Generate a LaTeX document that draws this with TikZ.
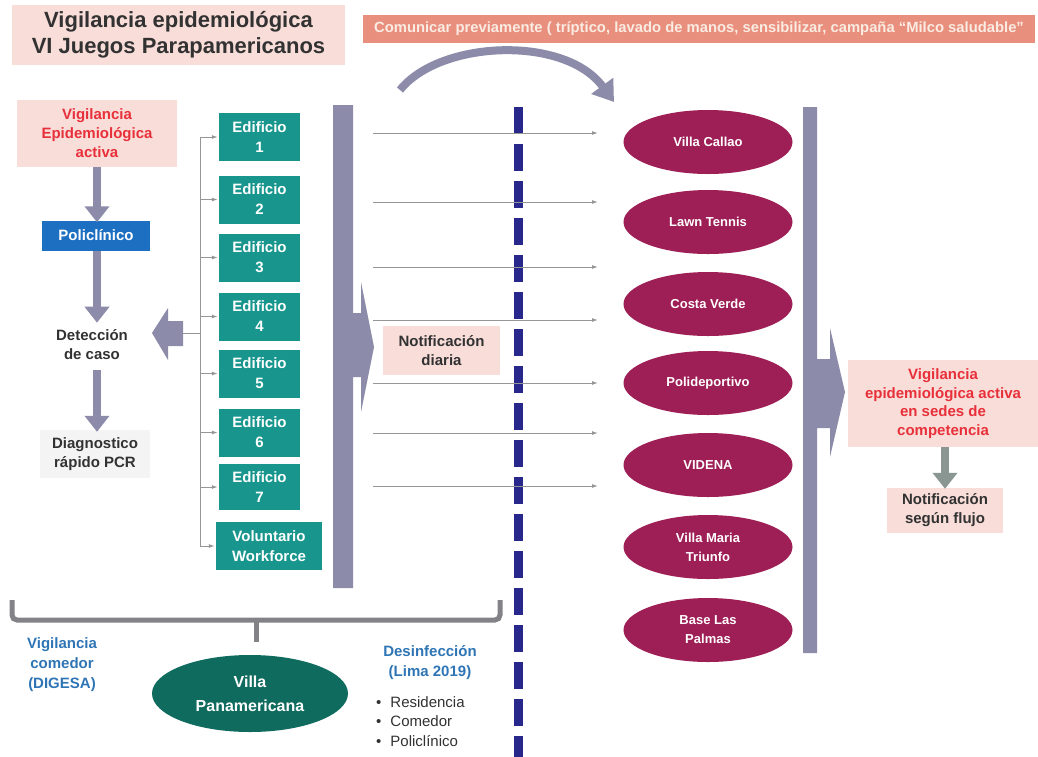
\documentclass[tikz,border=0pt]{standalone}
\usepackage{fontspec}
\setmainfont{Liberation Sans}
\usetikzlibrary{arrows.meta,shapes.geometric}
\definecolor{pinkfill}{RGB}{248,221,217}
\definecolor{bannercol}{RGB}{233,143,126}
\definecolor{bannertxt}{RGB}{250,236,226}
\definecolor{redtxt}{RGB}{232,48,58}
\definecolor{poliblue}{RGB}{28,111,193}
\definecolor{tealA}{RGB}{24,150,142}
\definecolor{tealB}{RGB}{16,107,95}
\definecolor{magentaA}{RGB}{158,30,86}
\definecolor{barcol}{RGB}{140,140,170}
\definecolor{navycol}{RGB}{40,40,140}
\definecolor{bracecol}{RGB}{130,130,135}
\definecolor{bluetxt}{RGB}{47,117,181}
\definecolor{greenarrow}{RGB}{138,150,146}
\definecolor{thincol}{RGB}{150,150,150}
\definecolor{darktxt}{RGB}{50,50,50}
\definecolor{diagfill}{RGB}{244,244,244}
\begin{document}
\begin{tikzpicture}[x=1pt,y=-1pt,
 base/.style={font=\fontsize{15}{19}\selectfont\bfseries, align=center, inner sep=0pt, text=darktxt},
 pinkbox/.style={base, fill=pinkfill},
 tealbox/.style={base, fill=tealA, text=white, minimum width=81pt, minimum height=48pt, font=\fontsize{15}{20}\selectfont\bfseries},
 site/.style={ellipse, fill=magentaA, text=white, minimum width=169pt, minimum height=64pt, inner sep=0pt, align=center, font=\fontsize{13}{19}\selectfont\bfseries},
 bigdown/.style={line width=8pt, draw=barcol, -{Triangle[width=24pt,length=16pt]}},
 thinarrow/.style={draw=thincol, line width=1pt, -{Latex[length=6pt,width=4pt]}},
 bluelabel/.style={base, text=bluetxt, font=\fontsize{15}{20}\selectfont\bfseries},
]
\useasboundingbox (0,0) rectangle (1038,756);

% title and banner
\node[pinkbox, minimum width=333pt, minimum height=60pt, font=\fontsize{22}{26}\selectfont\bfseries] (title) at (178.5,35) {Vigilancia epidemiológica\\VI Juegos Parapamericanos};
\node[base, fill=bannercol, text=bannertxt, minimum width=672pt, minimum height=28pt, font=\fontsize{14.8}{16}\selectfont\bfseries] (banner) at (699,29) {Comunicar previamente ( tríptico, lavado de manos, sensibilizar, campaña “Milco saludable”};

% curved arrow
\coordinate (cs) at (400,90);
\coordinate (ce) at (614,102);
\draw[line width=8pt, draw=barcol, -{Triangle[width=26pt,length=20pt]}] (cs) .. controls (440,40) and (565,35) .. (ce);

% left column
\node[pinkbox, text=redtxt, minimum width=160pt, minimum height=67pt] (vea) at (97,133.5) {Vigilancia\\Epidemiológica\\activa};
\node[base, fill=poliblue, text=white, minimum width=108pt, minimum height=30pt] (poli) at (96,235.5) {Policlínico};
\node[base] (det) at (92,345) {Detección\\de caso};
\node[base, fill=diagfill, minimum width=110pt, minimum height=48pt] (diag) at (95,454) {Diagnostico\\rápido PCR};
\coordinate (ax) at (97,0);
\draw[bigdown] (ax |- vea.south) -- ([yshift=-2pt]ax |- poli.north);
\draw[bigdown] (ax |- poli.south) -- ([yshift=7pt]ax |- det.north);
\draw[bigdown] ([yshift=-10pt]ax |- det.south) -- ([yshift=-2pt]ax |- diag.north);

% left block arrow
\fill[barcol] (152,333) -- (168,308) -- (168,321) -- (183,321) -- (183,346) -- (168,346) -- (168,360) -- cycle;

% buildings
\node[tealbox] (e1) at (259.5,137) {Edificio\\1};
\node[tealbox] (e2) at (259.5,199.5) {Edificio\\2};
\node[tealbox] (e3) at (259.5,257.5) {Edificio\\3};
\node[tealbox] (e4) at (259.5,316.5) {Edificio\\4};
\node[tealbox] (e5) at (259.5,373.5) {Edificio\\5};
\node[tealbox] (e6) at (259.5,432.5) {Edificio\\6};
\node[tealbox, minimum height=46pt] (e7) at (259.5,487) {Edificio\\7};
\node[tealbox, minimum width=106pt] (vol) at (269,546) {Voluntario\\Workforce};

\coordinate (bt) at (200,137);
\coordinate (bb) at (200,546);
\coordinate (bm) at (200,333);
\coordinate (ba) at (183,333);
\draw[draw=thincol, line width=1pt] (bt) -- (bb);
\draw[draw=thincol, line width=1pt] (ba) -- (bm);
\foreach \n in {e1,e2,e3,e4,e5,e6,e7,vol}{
  \draw[thinarrow] (bt |- \n.west) -- ([xshift=-1pt]\n.west);
}

% left vertical bar with arrow
\fill[barcol] (333,105) -- (353,105) -- (353,313) -- (361,313) -- (361,282) -- (374,347) -- (361,412) -- (361,377) -- (353,377) -- (353,588) -- (333,588) -- cycle;

\node[pinkbox, minimum width=117pt, minimum height=49pt] (notif) at (441.5,350.5) {Notificación\\diaria};

% dashed line
\coordinate (dt) at (518,107);
\coordinate (db) at (518,760);
\draw[draw=navycol, line width=9pt, dash pattern=on 27pt off 10pt] (dt) -- (db);

% sites
\node[site] (s1) at (708,142) {Villa Callao};
\node[site] (s2) at (708,222) {Lawn Tennis};
\node[site] (s3) at (708,304) {Costa Verde};
\node[site] (s4) at (708,383) {Polideportivo};
\node[site] (s5) at (708,465) {VIDENA};
\node[site] (s6) at (708,547) {Villa Maria\\Triunfo};
\node[site] (s7) at (708,630) {Base Las\\Palmas};

% thin arrows
\foreach \y/\i in {133/1,202/2,267/3,320/4,383/5,433/6,486/7}{
  \coordinate (ha\i) at (373,\y);
  \coordinate (hb\i) at (598,\y);
  \draw[thinarrow] (ha\i) -- (hb\i);
}

% right vertical bar with arrow
\fill[barcol] (803,107) -- (817,107) -- (817,359) -- (830,359) -- (830,328) -- (845,392) -- (830,457) -- (830,428) -- (817,428) -- (817,653) -- (803,653) -- cycle;

\node[pinkbox, text=redtxt, minimum width=190pt, minimum height=87pt, font=\fontsize{15}{18.5}\selectfont\bfseries] (vsed) at (943,403.5) {Vigilancia\\epidemiológica activa\\en sedes de\\competencia};
\node[pinkbox, minimum width=116pt, minimum height=45pt] (nflujo) at (945,510.5) {Notificación\\según flujo};
\draw[line width=8pt, draw=greenarrow, -{Triangle[width=24pt,length=16pt]}] (vsed.south -| nflujo.north) -- ([yshift=-1pt]nflujo.north);

% bottom brace
\coordinate (bl) at (12,600);
\coordinate (br) at (500,600);
\coordinate (bc) at (256,620);
\coordinate (bs) at (256,642);
\draw[draw=bracecol, line width=5pt, rounded corners=5pt] (bl) -- (12,620) -- (500,620) -- (br);
\draw[draw=bracecol, line width=5pt] (bc) -- (bs);

\node[bluelabel] (vcom) at (62,665) {Vigilancia\\comedor\\(DIGESA)};
\node[ellipse, fill=tealB, text=white, minimum width=196pt, minimum height=77pt, inner sep=0pt, align=center, font=\fontsize{16}{24}\selectfont\bfseries] (vpan) at (250,693.5) {Villa\\Panamericana};
\node[bluelabel] (desi) at (430,663) {Desinfección\\(Lima 2019)};
\node[base, anchor=north west, align=left, font=\fontsize{15}{19.5}\selectfont] (bul) at (376,696) {\textbullet\hspace{9pt}Residencia\\\textbullet\hspace{9pt}Comedor\\\textbullet\hspace{9pt}Policlínico};
\end{tikzpicture}
\end{document}
